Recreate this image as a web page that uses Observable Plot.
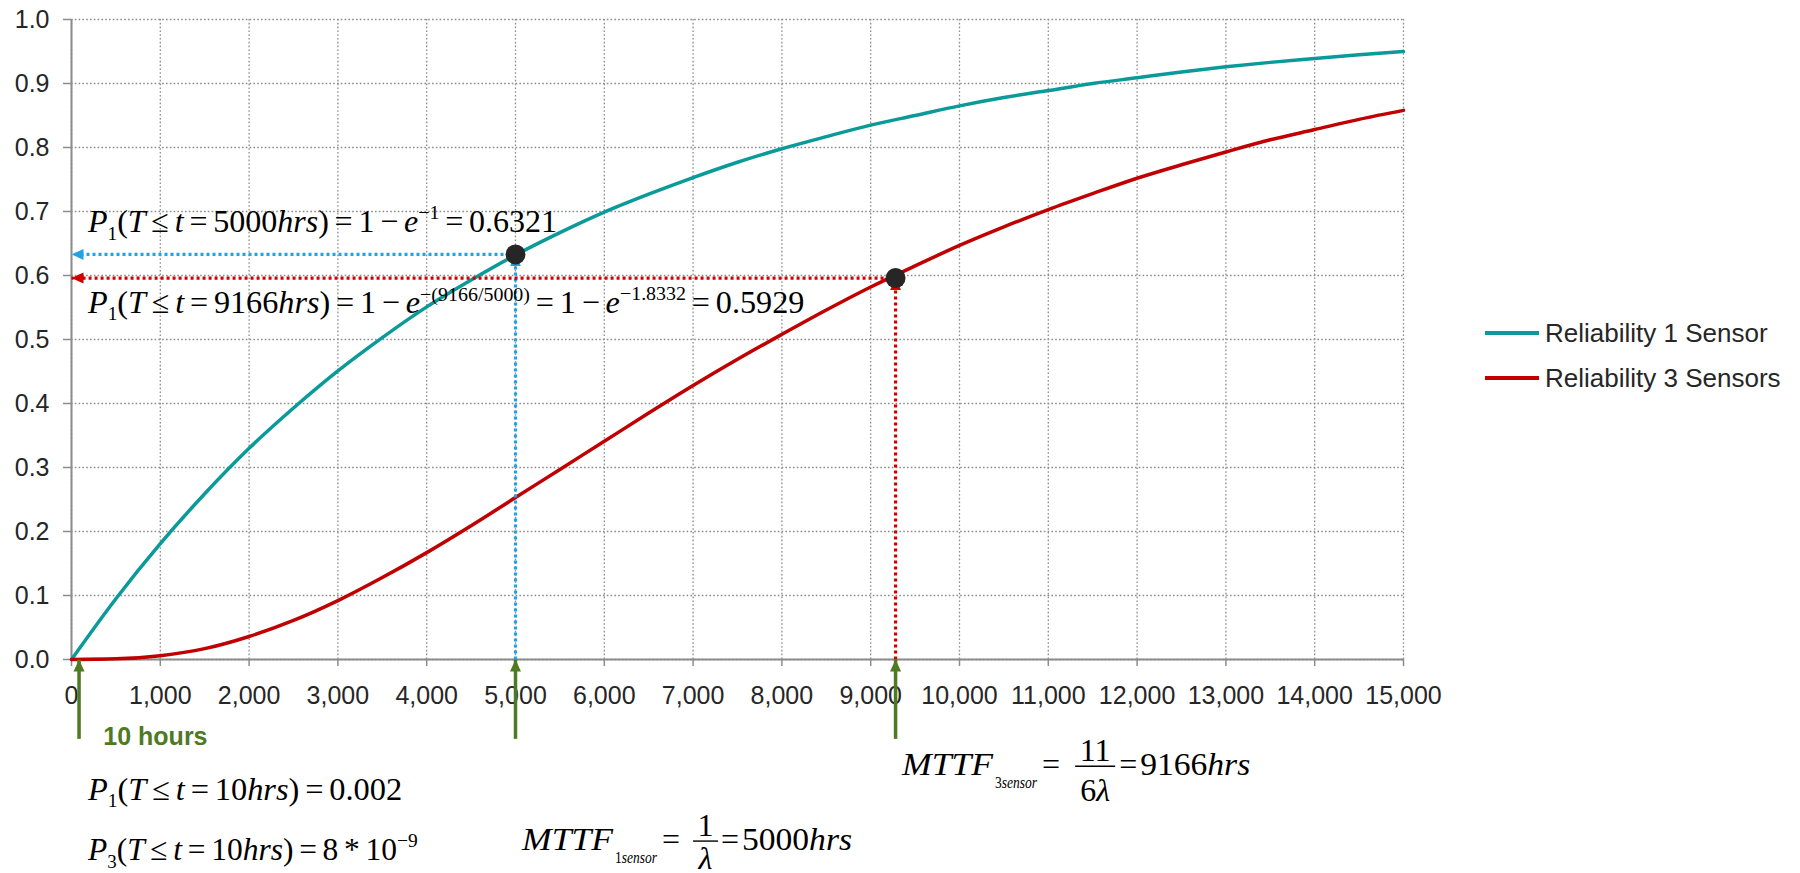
<!DOCTYPE html>
<html>
<head>
<meta charset="utf-8">
<script src="https://cdn.jsdelivr.net/npm/d3@7"></script>
<script src="https://cdn.jsdelivr.net/npm/@observablehq/plot@0.6"></script>
<style>
  html, body { margin: 0; padding: 0; background: #fff; }
  #chart svg { display: block; }
</style>
</head>
<body>
<div id="chart"></div>
<script>
// ---------- data ----------
const hours = [0, 500, 1000, 1500, 2000, 2500, 3000, 3500, 4000, 4500, 5000, 5500, 6000, 6500, 7000, 7500,
  8000, 8500, 9000, 9500, 10000, 10500, 11000, 11500, 12000, 12500, 13000, 13500, 14000, 14500, 15000];
const oneSensor = [0, 0.095, 0.181, 0.259, 0.330, 0.393, 0.451, 0.503, 0.551, 0.593, 0.632, 0.667, 0.699, 0.727,
  0.753, 0.777, 0.798, 0.817, 0.835, 0.850, 0.865, 0.878, 0.889, 0.900, 0.909, 0.918, 0.926, 0.933, 0.939, 0.945, 0.950];
const threeSensors = [0, 0.001, 0.006, 0.017, 0.036, 0.061, 0.092, 0.128, 0.167, 0.209, 0.253, 0.297, 0.341, 0.385,
  0.428, 0.469, 0.508, 0.546, 0.582, 0.615, 0.647, 0.676, 0.703, 0.728, 0.752, 0.773, 0.793, 0.812, 0.828, 0.844, 0.858];
const seriesNames = ["Reliability 1 Sensor", "Reliability 3 Sensors"];
const xTicks = [0, 1000, 2000, 3000, 4000, 5000, 6000, 7000, 8000, 9000, 10000, 11000, 12000, 13000, 14000, 15000];
const yTicks = [0, 0.1, 0.2, 0.3, 0.4, 0.5, 0.6, 0.7, 0.8, 0.9, 1.0];
// highlighted points (MTTF 1 sensor, MTTF 3 sensors)
const markX = [5000, 9280];
const markY = [0.633, 0.596];
// green arrows under the axis: 10 hours, and the two MTTF points
const arrowX = [85, 5000, 9280];
const arrowBottom = -0.124;

// ---------- styles ----------
const SANS = "'Liberation Sans', Arial, sans-serif";
const SERIF = "'Liberation Serif', 'Times New Roman', serif";
const teal = "#0a9a9a", red = "#c00000", blue = "#22a2e2", redDot = "#d10000", green = "#4e7a22", grey = "#8c8c8c";
const seriesColors = [teal, red];

const rows = hours.map((h, i) => ({hours: h, one: oneSensor[i], three: threeSensors[i]}));
const guides = markX.map((x, i) => ({x, y: markY[i]}));
const greens = arrowX.map(x => ({x}));

const NS = "http://www.w3.org/2000/svg";
function arrowHead(color, context) {
  const doc = context.document;
  const m = doc.createElementNS(NS, "marker");
  m.setAttribute("viewBox", "-12 -6 12 12");
  m.setAttribute("markerWidth", 12);
  m.setAttribute("markerHeight", 12);
  m.setAttribute("markerUnits", "userSpaceOnUse");
  m.setAttribute("refX", 0);
  m.setAttribute("refY", 0);
  m.setAttribute("orient", "auto");
  const p = doc.createElementNS(NS, "path");
  p.setAttribute("d", "M-12,-5.5L0,0L-12,5.5Z");
  p.setAttribute("fill", color);
  p.setAttribute("stroke", "none");
  m.appendChild(p);
  return m;
}

const chart = Plot.plot({
  width: 1800,
  height: 873,
  marginLeft: 71,
  marginRight: 397,
  marginTop: 19,
  marginBottom: 214,
  x: {domain: [0, 15000]},
  y: {domain: [0, 1]},
  style: {fontFamily: SANS, fontSize: "25px", color: "#262626", background: "#fff", overflow: "visible"},
  marks: [
    Plot.gridX(xTicks, {stroke: grey, strokeOpacity: 1, strokeWidth: 1.3, strokeDasharray: "1.6,2.2"}),
    Plot.gridY(yTicks, {stroke: grey, strokeOpacity: 1, strokeWidth: 1.3, strokeDasharray: "1.6,2.2"}),
    Plot.axisX(xTicks, {tickSize: 7, tickPadding: 20, tickFormat: d3.format(","), stroke: grey, strokeWidth: 1.5,
      fill: "#262626", fontSize: 25, label: null}),
    Plot.axisY(yTicks, {tickSize: 8, tickPadding: 14, tickFormat: d3.format(".1f"), stroke: grey, strokeWidth: 1.5,
      fill: "#262626", fontSize: 25, label: null}),
    Plot.ruleY([0], {stroke: grey, strokeWidth: 2}),
    Plot.ruleX([0], {stroke: grey, strokeWidth: 2}),
    Plot.line(rows, {x: "hours", y: "one", stroke: teal, strokeWidth: 3.5, curve: "monotone-x"}),
    Plot.line(rows, {x: "hours", y: "three", stroke: red, strokeWidth: 3.5, curve: "monotone-x"}),
    // dotted guide arrows (blue for 1 sensor, red for 3 sensors)
    Plot.link([guides[0]], {x1: "x", y1: "y", x2: () => 0, y2: "y", stroke: blue, strokeWidth: 3.2,
      strokeDasharray: "3,3", markerEnd: arrowHead}),
    Plot.link([guides[0]], {x1: "x", y1: () => 0, x2: "x", y2: "y", stroke: blue, strokeWidth: 3.2,
      strokeDasharray: "3,3", markerEnd: arrowHead}),
    Plot.link([guides[1]], {x1: "x", y1: "y", x2: () => 0, y2: "y", stroke: redDot, strokeWidth: 3.2,
      strokeDasharray: "3,3", markerEnd: arrowHead}),
    Plot.link([guides[1]], {x1: "x", y1: () => 0, x2: "x", y2: "y", stroke: redDot, strokeWidth: 3.2,
      strokeDasharray: "3,3", markerEnd: arrowHead}),
    // green arrows under the axis
    Plot.link(greens, {x1: "x", y1: () => arrowBottom, x2: "x", y2: () => 0, stroke: green, strokeWidth: 3.5,
      markerEnd: arrowHead}),
    Plot.dot(guides, {x: "x", y: "y", r: 10, fill: "#262626", stroke: "none"})
  ]
});
document.getElementById("chart").append(chart);

const svg = d3.select(chart);
const xs = chart.scale("x"), ys = chart.scale("y");
const X = v => xs.apply(v), Y = v => ys.apply(v);

// ---------- annotations ----------
const FS = 32;
// math text: parts {t, i (italic), sub, sup, op (spaced operator)}
function formula(x0, x1, yb, parts, fs = FS) {
  const t = svg.append("text").attr("font-family", SERIF).attr("font-size", fs).attr("fill", "#000")
    .attr("text-anchor", "start");
  let shift = 0, pendingGap = 0;
  const gap = fs * 0.18;
  for (const p of parts) {
    const s = t.append("tspan").text(p.t);
    if (p.i) s.attr("font-style", "italic");
    let target = 0;
    if (p.sub) { s.attr("font-size", fs * 0.6); target = fs * 0.24; }
    if (p.sup) { s.attr("font-size", fs * 0.62); target = -fs * (p.sup === true ? 0.42 : p.sup); }
    if (target !== shift) { s.attr("dy", target - shift); shift = target; }
    let dx = pendingGap + (p.op ? gap : 0) + (p.dx || 0);
    if (dx) s.attr("dx", dx);
    pendingGap = p.op ? gap : 0;
  }
  const bb = t.node().getBBox();
  const k = (X(x1) - X(x0)) / bb.width;
  t.attr("transform", `translate(${X(x0) - bb.x * k},${Y(yb)}) scale(${k},1)`);
}

// fraction formula; lay = relative horizontal layout (px) of the pieces
function fracFormula(x0, x1, yb, subNum, num, den, rhs, lay) {
  const fs = FS;
  const s = (X(x1) - X(x0)) / lay.w;
  const g = svg.append("g").attr("font-family", SERIF).attr("fill", "#000").attr("font-size", fs)
    .attr("text-anchor", "start").attr("transform", `translate(${X(x0)},${Y(yb)}) scale(${s},1)`);
  g.append("text").attr("font-style", "italic").attr("textLength", lay.sub - 2)
    .attr("lengthAdjust", "spacingAndGlyphs").text("MTTF");
  const t1 = g.append("text").attr("x", lay.sub).attr("y", fs * 0.4).attr("font-size", 16)
    .attr("textLength", lay.eq1 - lay.sub - 5).attr("lengthAdjust", "spacingAndGlyphs");
  t1.append("tspan").text(subNum);
  t1.append("tspan").attr("font-style", "italic").text("sensor");
  g.append("text").attr("x", lay.eq1).text("=");
  const mid = (lay.bar[0] + lay.bar[1]) / 2;
  const n = g.append("text").attr("x", mid).attr("y", -fs * 0.44).attr("text-anchor", "middle");
  num.forEach(p => { const q = n.append("tspan").text(p.t); if (p.i) q.attr("font-style", "italic"); });
  const d = g.append("text").attr("x", mid).attr("y", lay.den).attr("text-anchor", "middle");
  den.forEach(p => { const q = d.append("tspan").text(p.t); if (p.i) q.attr("font-style", "italic"); });
  g.append("line").attr("x1", lay.bar[0]).attr("x2", lay.bar[1]).attr("y1", -fs * 0.27).attr("y2", -fs * 0.27)
    .attr("stroke", "#000").attr("stroke-width", 1.4);
  g.append("text").attr("x", lay.eq2).text("=");
  const r = g.append("text").attr("x", lay.rhs).attr("textLength", lay.w - lay.rhs)
    .attr("lengthAdjust", "spacingAndGlyphs");
  rhs.forEach(p => { const q = r.append("tspan").text(p.t); if (p.i) q.attr("font-style", "italic"); });
}

const lhs = (idx, hrs) => [
  {t: "P", i: 1}, {t: idx, sub: 1}, {t: "("}, {t: "T", i: 1}, {t: "≤", op: 1}, {t: "t", i: 1},
  {t: "=", op: 1}, {t: hrs}, {t: "hrs", i: 1}, {t: ")"}
];

formula(180, 5476, 0.667, [
  ...lhs("1", "5000"), {t: "=", op: 1}, {t: "1"}, {t: "−", op: 1}, {t: "e", i: 1}, {t: "−1", sup: true},
  {t: "=", op: 1}, {t: "0.6321"}
]);
formula(180, 8258, 0.541, [
  ...lhs("1", "9166"), {t: "=", op: 1}, {t: "1"}, {t: "−", op: 1}, {t: "e", i: 1}, {t: "−(9166/5000)", sup: 0.36},
  {t: "=", op: 1}, {t: "1"}, {t: "−", op: 1}, {t: "e", i: 1}, {t: "−1.8332", sup: 0.4},
  {t: "=", op: 1}, {t: "0.5929"}
]);
formula(180, 3731, -0.22, [...lhs("1", "10"), {t: "=", op: 1}, {t: "0.002"}]);
formula(180, 3905, -0.314, [...lhs("3", "10"), {t: "=", op: 1}, {t: "8"}, {t: "*", op: 1}, {t: "10"}, {t: "−9", sup: true}]);

fracFormula(5079, 8795, -0.298, "1", [{t: "1"}], [{t: "λ", i: 1}], [{t: "5000"}, {t: "hrs", i: 1}],
  {w: 330, sub: 93, eq1: 140, bar: [171, 196], eq2: 199, rhs: 220, den: 19});
fracFormula(9358, 13280, -0.181, "3", [{t: "11"}], [{t: "6"}, {t: "λ", i: 1}], [{t: "9166"}, {t: "hrs", i: 1}],
  {w: 348, sub: 93, eq1: 140, bar: [173, 213], eq2: 217, rhs: 238, den: 26});

svg.append("text").attr("x", X(364)).attr("y", Y(-0.134)).attr("text-anchor", "start")
  .attr("font-family", SANS).attr("font-size", 25).attr("font-weight", "bold").attr("fill", green)
  .text("10 hours");

// ---------- legend ----------
const lg = svg.append("g").attr("font-family", SANS).attr("font-size", 26).attr("fill", "#262626")
  .attr("text-anchor", "start");
seriesNames.forEach((name, i) => {
  const cy = 333 + i * 45;
  lg.append("line").attr("x1", 1485).attr("x2", 1539).attr("y1", cy).attr("y2", cy)
    .attr("stroke", seriesColors[i]).attr("stroke-width", 4);
  lg.append("text").attr("x", 1545).attr("y", cy).attr("dy", "0.35em").text(name);
});
</script>
</body>
</html>
